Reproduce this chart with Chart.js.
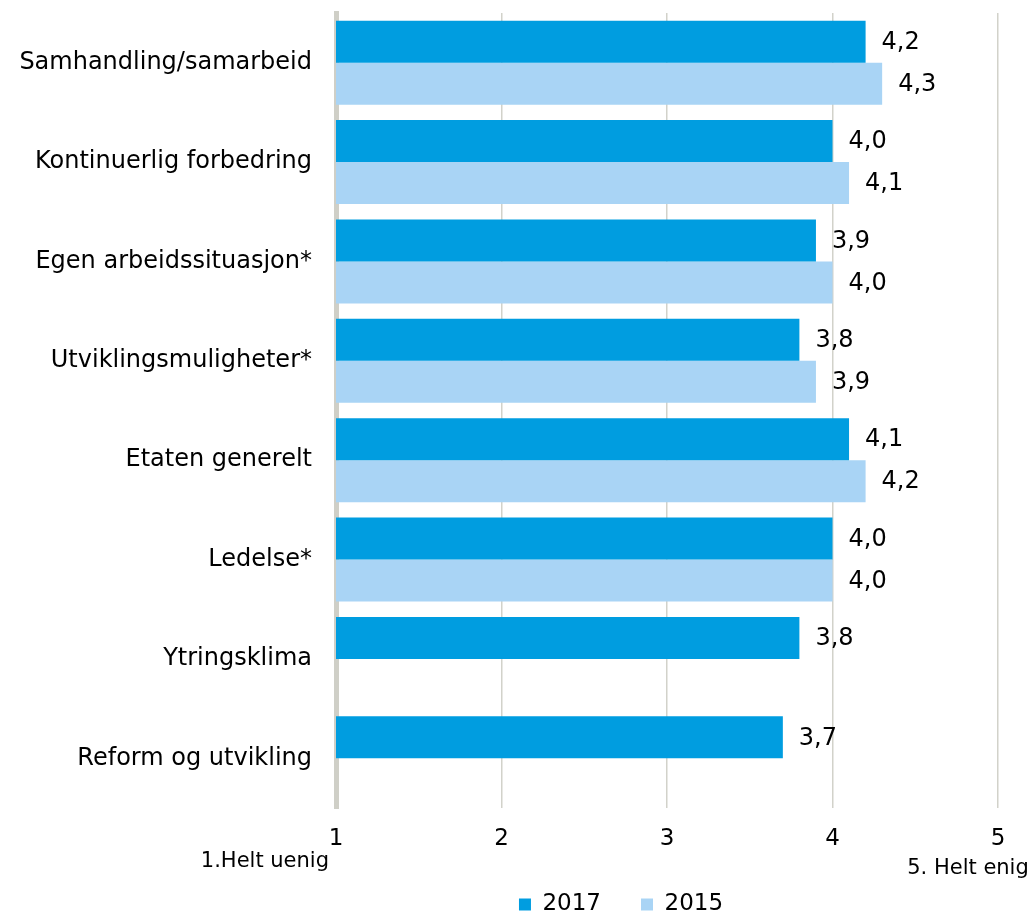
<!DOCTYPE html>
<html>
<head>
<meta charset="utf-8">
<script src="https://cdn.jsdelivr.net/npm/chart.js@4.4.1/dist/chart.umd.min.js"></script>
<style>
  html, body { margin: 0; padding: 0; background: #fff; }
  #wrap { width: 1036px; height: 915px; }
</style>
</head>
<body>
<div id="wrap"><canvas id="chart" width="1036" height="915"></canvas></div>
<script>
const categories = [
  'Samhandling/samarbeid',
  'Kontinuerlig forbedring',
  'Egen arbeidssituasjon*',
  'Utviklingsmuligheter*',
  'Etaten generelt',
  'Ledelse*',
  'Ytringsklima',
  'Reform og utvikling'
];
const values2017 = [4.2, 4.0, 3.9, 3.8, 4.1, 4.0, 3.8, 3.7];
const values2015 = [4.3, 4.1, 4.0, 3.9, 4.2, 4.0, null, null];
const xTicks = [1, 2, 3, 4, 5];
const scaleNotes = [
  { value: 1, text: '1.Helt uenig' },
  { value: 5, text: '5. Helt enig' }
];

const FONT = 'Verdana, "DejaVu Sans", sans-serif';
const COLOR_2017 = '#009de0';
const COLOR_2015 = '#a9d4f5';
const GRID = '#d2d2ca';
const PLOT_BOTTOM = 808;
const LEGEND_H = 62;

function fmtComma(v) {
  return v.toFixed(1).replace('.', ',');
}

// value labels to the right of every bar
const barLabels = {
  id: 'barLabels',
  afterDatasetsDraw(chart) {
    const ctx = chart.ctx;
    ctx.save();
    ctx.font = '24px ' + FONT;
    ctx.fillStyle = '#000';
    ctx.textAlign = 'left';
    ctx.textBaseline = 'middle';
    chart.data.datasets.forEach((ds, di) => {
      chart.getDatasetMeta(di).data.forEach((bar, i) => {
        const v = ds.data[i];
        if (v == null) return;
        ctx.fillText(fmtComma(v), bar.x + 16, bar.y + 1);
      });
    });
    ctx.restore();
  }
};

// end notes under the first and last x ticks, legend nudged right
const axisNotes = {
  id: 'axisNotes',
  afterLayout(chart) {
    const lg = chart.legend;
    if (lg) {
      lg.left += 122;
      lg.right += 122;
    }
  },
  afterDraw(chart) {
    const ctx = chart.ctx;
    const x = chart.scales.x;
    ctx.save();
    ctx.font = '21px ' + FONT;
    ctx.fillStyle = '#000';
    ctx.textBaseline = 'middle';
    ctx.textAlign = 'right';
    ctx.fillText(scaleNotes[0].text, x.getPixelForValue(scaleNotes[0].value) - 7, chart.chartArea.bottom + 54);
    ctx.textAlign = 'center';
    ctx.fillText(scaleNotes[1].text, x.getPixelForValue(scaleNotes[1].value) - 30, chart.chartArea.bottom + 61);
    ctx.restore();
  }
};

new Chart(document.getElementById('chart'), {
  type: 'bar',
  data: {
    labels: categories,
    datasets: [
      {
        label: '2017',
        data: values2017,
        backgroundColor: COLOR_2017,
        categoryPercentage: 0.845,
        barPercentage: 1.0
      },
      {
        label: '2015',
        data: values2015,
        backgroundColor: COLOR_2015,
        categoryPercentage: 0.845,
        barPercentage: 1.0
      }
    ]
  },
  options: {
    indexAxis: 'y',
    responsive: false,
    animation: false,
    layout: { padding: { left: 0, right: 38, top: 13, bottom: 0 } },
    scales: {
      x: {
        min: 1,
        max: 5,
        afterBuildTicks(scale) {
          scale.ticks = xTicks.map((v) => ({ value: v }));
        },
        afterFit(scale) {
          const lgH = scale.chart.legend ? scale.chart.legend.height : 0;
          scale.height = 915 - PLOT_BOTTOM - lgH;
        },
        grid: { color: GRID, lineWidth: 1.5, drawTicks: false },
        border: { display: false },
        ticks: {
          color: '#000',
          font: { family: FONT, size: 23 },
          padding: 17,
          callback: (v) => String(v)
        }
      },
      y: {
        afterFit(scale) {
          scale.width = 336;
          scale.paddingTop = 0;
          scale.paddingBottom = 0;
        },
        grid: { display: false, drawTicks: false },
        border: { display: true, color: '#cfcfc7', width: 5 },
        ticks: {
          color: '#000',
          font: { family: FONT, size: 24 },
          padding: 24
        }
      }
    },
    plugins: {
      legend: {
        position: 'bottom',
        maxHeight: LEGEND_H,
        labels: {
          color: '#000',
          font: { family: FONT, size: 23 },
          boxWidth: 12,
          boxHeight: 12,
          padding: 40
        }
      },
      tooltip: { enabled: false }
    }
  },
  plugins: [barLabels, axisNotes]
});
</script>
</body>
</html>
